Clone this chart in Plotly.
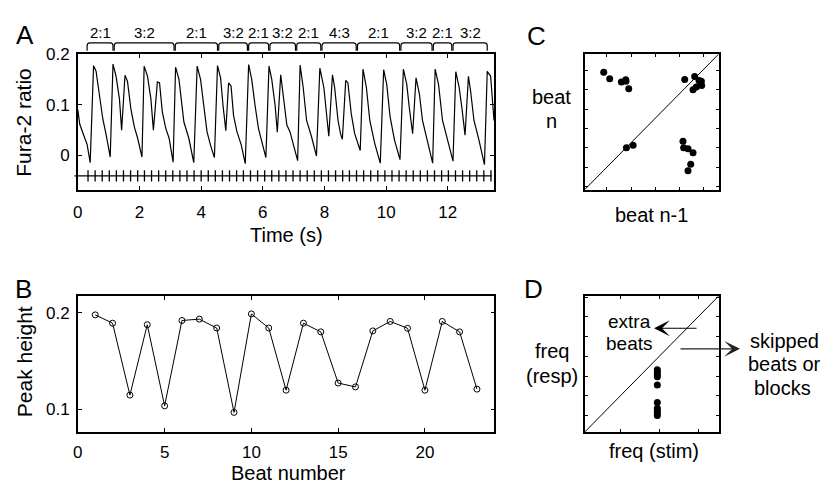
import plotly.graph_objects as go

W, H = 824, 484
FONT = "Liberation Sans, Arial, sans-serif"

# ---------------- Panel A: Fura-2 ratio trace ----------------
time_s = [0.00, 0.06, 0.16, 0.30, 0.40,
          0.51, 0.59, 0.70, 0.81, 0.92, 1.05,
          1.14, 1.24, 1.35, 1.42,
          1.53, 1.61, 1.72, 1.83, 1.94, 2.08,
          2.15, 2.26, 2.37, 2.45,
          2.58, 2.65, 2.74, 2.85, 2.96, 3.09,
          3.17, 3.28, 3.44, 3.60, 3.76,
          3.87, 3.98, 4.09, 4.19, 4.30, 4.43,
          4.53, 4.63, 4.71, 4.80,
          4.89, 4.97, 5.05, 5.16, 5.30, 5.43,
          5.54, 5.64, 5.75, 5.86, 5.97, 6.10,
          6.20, 6.29, 6.40, 6.47,
          6.58, 6.68, 6.78, 6.88, 6.99, 7.13,
          7.21, 7.31, 7.42, 7.58, 7.74,
          7.85, 7.98, 8.06, 8.14,
          8.26, 8.33, 8.44, 8.52, 8.58,
          8.69, 8.76, 8.87, 8.98, 9.16,
          9.25, 9.36, 9.47, 9.63, 9.81,
          9.92, 10.02, 10.13, 10.27, 10.45,
          10.56, 10.67, 10.75, 10.86,
          10.97, 11.08, 11.18, 11.34, 11.51,
          11.59, 11.70, 11.83, 11.99, 12.17,
          12.26, 12.37, 12.47, 12.56,
          12.67, 12.74, 12.85, 13.01, 13.19,
          13.28, 13.39, 13.50]
fura_ratio = [0.090, 0.062, 0.045, 0.022, -0.014,
              0.177, 0.166, 0.117, 0.072, 0.040, -0.003,
              0.180, 0.156, 0.111, 0.050,
              0.158, 0.146, 0.092, 0.057, 0.034, -0.003,
              0.176, 0.156, 0.111, 0.050,
              0.145, 0.143, 0.086, 0.054, 0.034, -0.013,
              0.174, 0.150, 0.066, 0.034, -0.014,
              0.176, 0.150, 0.098, 0.047, 0.021, -0.004,
              0.177, 0.153, 0.098, 0.049,
              0.143, 0.137, 0.079, 0.047, 0.021, -0.016,
              0.179, 0.150, 0.098, 0.053, 0.027, -0.004,
              0.176, 0.150, 0.098, 0.046,
              0.159, 0.110, 0.060, 0.047, 0.024, -0.010,
              0.178, 0.134, 0.069, 0.037, -0.001,
              0.172, 0.134, 0.088, 0.038,
              0.159, 0.134, 0.069, 0.043, 0.032,
              0.148, 0.143, 0.082, 0.043, 0.010,
              0.170, 0.134, 0.069, 0.024, -0.015,
              0.169, 0.140, 0.076, 0.031, -0.008,
              0.170, 0.140, 0.095, 0.043,
              0.153, 0.121, 0.069, 0.031, -0.015,
              0.170, 0.140, 0.069, 0.031, -0.011,
              0.165, 0.134, 0.088, 0.040,
              0.156, 0.127, 0.069, 0.031, -0.018,
              0.166, 0.156, 0.069]

stim_times = [0.33, 0.56, 0.79, 1.02, 1.25, 1.48, 1.71, 1.94, 2.16, 2.39,
              2.62, 2.85, 3.08, 3.31, 3.54, 3.77, 4.00, 4.23, 4.46, 4.69,
              4.92, 5.15, 5.37, 5.60, 5.83, 6.06, 6.29, 6.52, 6.75, 6.98,
              7.21, 7.44, 7.67, 7.90, 8.13, 8.36, 8.59, 8.81, 9.04, 9.27,
              9.50, 9.73, 9.96, 10.19, 10.42, 10.65, 10.88, 11.11, 11.34, 11.57,
              11.80, 12.02, 12.25, 12.48, 12.71, 12.94, 13.17, 13.40]
stim_level = -0.04

bracket_edges = [0.30, 1.16, 3.14, 4.55, 5.52, 6.21, 7.08, 7.90, 9.05,
                 10.46, 11.51, 12.15, 13.28]
bracket_labels = ["2:1", "3:2", "2:1", "3:2", "2:1", "3:2", "2:1", "4:3",
                  "2:1", "3:2", "2:1", "3:2"]

# ---------------- Panel B: peak heights ----------------
beat_number = list(range(1, 24))
peak_height = [0.1976, 0.1890, 0.1145, 0.1874, 0.1034, 0.1918, 0.1932, 0.1840,
               0.0966, 0.1986, 0.1840, 0.1196, 0.1890, 0.1800, 0.1270, 0.1230,
               0.1810, 0.1908, 0.1837, 0.1196, 0.1908, 0.1800, 0.1207]

# ---------------- Panel C: return map ----------------
beat_prev = [0.0966, 0.1028, 0.1149, 0.1194, 0.1196, 0.1225,
             0.1804, 0.1907, 0.1952, 0.1979, 0.1890, 0.1924, 0.1966, 0.1976,
             0.1201, 0.1270,
             0.1786, 0.1793, 0.1838, 0.1890, 0.1866, 0.1838]
beat_curr = [0.1983, 0.1915, 0.1881, 0.1905, 0.1890, 0.1813,
             0.1908, 0.1939, 0.1898, 0.1847, 0.1803, 0.1830, 0.1871, 0.1890,
             0.1202, 0.1229,
             0.1270, 0.1202, 0.1191, 0.1151, 0.1032, 0.0964]
c_xrange = [0.077, 0.2155]
c_yrange = [0.077, 0.217]

# ---------------- Panel D: frequency map ----------------
freq_stim = [1.95, 1.95, 1.95, 1.95, 1.95, 1.95, 1.95, 1.95, 1.95, 1.95]
freq_resp = [1.66, 1.60, 1.54, 1.48, 1.27, 0.83, 0.68, 0.62, 0.56, 0.50]
d_range = [0.08, 3.53]


def px(x):
    return x / W


def py(y):
    return 1 - y / H


fig = go.Figure()

fig.add_trace(go.Scatter(x=time_s, y=fura_ratio, mode="lines",
                         line=dict(color="black", width=1.2),
                         xaxis="x", yaxis="y", showlegend=False))
fig.add_trace(go.Scatter(x=stim_times, y=[stim_level] * len(stim_times),
                         mode="markers",
                         marker=dict(symbol="line-ns", size=8,
                                     line=dict(color="black", width=1.3)),
                         xaxis="x", yaxis="y", showlegend=False))

fig.add_trace(go.Scatter(x=beat_number, y=peak_height, mode="lines+markers",
                         line=dict(color="black", width=1),
                         marker=dict(symbol="circle-open", size=6,
                                     color="black", line=dict(width=1)),
                         xaxis="x2", yaxis="y2", showlegend=False))

fig.add_trace(go.Scatter(x=c_xrange, y=c_yrange, mode="lines",
                         line=dict(color="black", width=1),
                         xaxis="x3", yaxis="y3", showlegend=False))
fig.add_trace(go.Scatter(x=beat_prev, y=beat_curr, mode="markers",
                         marker=dict(symbol="circle", size=7, color="black"),
                         xaxis="x3", yaxis="y3", showlegend=False))

fig.add_trace(go.Scatter(x=d_range, y=d_range, mode="lines",
                         line=dict(color="black", width=1),
                         xaxis="x4", yaxis="y4", showlegend=False))
fig.add_trace(go.Scatter(x=freq_stim, y=freq_resp, mode="markers",
                         marker=dict(symbol="circle", size=7, color="black"),
                         xaxis="x4", yaxis="y4", showlegend=False))

axcommon = dict(showline=True, linecolor="black", linewidth=1.6, mirror="ticks",
                ticks="inside", ticklen=4, tickwidth=1, tickcolor="black",
                showgrid=False, zeroline=False,
                tickfont=dict(family=FONT, size=17, color="black"))

fig.update_layout(
    width=W, height=H,
    margin=dict(l=0, r=0, t=0, b=0, pad=0),
    paper_bgcolor="white", plot_bgcolor="white",
    font=dict(family=FONT, color="black"),
    xaxis=dict(axcommon, domain=[px(73.3), px(492)], anchor="y",
               range=[0, 13.5], tickvals=[0, 2, 4, 6, 8, 10, 12],
               ticklabelstandoff=6),
    yaxis=dict(axcommon, domain=[py(184), py(45.7)], anchor="x",
               range=[-0.067, 0.2002], tickvals=[0, 0.1, 0.2],
               ticktext=["0", "0.1", "0.2"], ticklabelstandoff=3),
    xaxis2=dict(axcommon, domain=[px(73.3), px(492.3)], anchor="y2",
                range=[0, 24], tickvals=[0, 5, 10, 15, 20],
                ticklabelstandoff=4),
    yaxis2=dict(axcommon, domain=[py(430.7), py(292.3)], anchor="x2",
                range=[0.0766, 0.2173], tickvals=[0.1, 0.2],
                ticktext=["0.1", "0.2"], ticklabelstandoff=3),
    xaxis3=dict(axcommon, domain=[px(583.3), px(718)], anchor="y3",
                range=c_xrange, tick0=0, dtick=0.025, showticklabels=False,
                ticklen=3),
    yaxis3=dict(axcommon, domain=[py(184), py(46)], anchor="x3",
                range=c_yrange, tick0=0, dtick=0.02, showticklabels=False,
                ticklen=3),
    xaxis4=dict(axcommon, domain=[px(583.3), px(718)], anchor="y4",
                range=d_range, tick0=0, dtick=1, showticklabels=False,
                ticklen=3),
    yaxis4=dict(axcommon, domain=[py(431), py(292.5)], anchor="x4",
                range=d_range, tick0=0, dtick=0.5, showticklabels=False,
                ticklen=3),
)

# stimulus baseline
fig.add_shape(type="line", xref="x domain", yref="y", x0=-0.008, x1=0.995,
              y0=stim_level, y1=stim_level, line=dict(color="black", width=1.3))

# brackets above panel A
ytop, ymid, ybot = py(34.5), py(37.5), py(42.5)
r = 0.09
for i in range(len(bracket_labels)):
    x0 = bracket_edges[i] + (0.02 if i > 0 else 0)
    x1 = bracket_edges[i + 1] - (0.02 if i < len(bracket_labels) - 1 else 0)
    path = (f"M{x0},{ybot} L{x0},{ymid} Q{x0},{ytop} {x0 + r},{ytop} "
            f"L{x1 - r},{ytop} Q{x1},{ytop} {x1},{ymid} L{x1},{ybot}")
    fig.add_shape(type="path", path=path, xref="x", yref="paper",
                  line=dict(color="black", width=1.2))
    fig.add_annotation(text=bracket_labels[i], x=(x0 + x1) / 2, y=py(24),
                       xref="x", yref="paper", showarrow=False,
                       xanchor="center", yanchor="middle",
                       font=dict(family=FONT, size=15, color="black"))


def ann(text, x, y, size=20, angle=0):
    fig.add_annotation(text=text, x=px(x), y=py(y), xref="paper", yref="paper",
                       showarrow=False, xanchor="center", yanchor="middle",
                       textangle=angle,
                       font=dict(family=FONT, size=size, color="black"))


# panel letters
ann("A", 20.5, 26, 26)
ann("B", 18.5, 285, 26)
ann("C", 535, 28, 26)
ann("D", 532, 285, 26)

# axis titles
ann("Fura-2 ratio", 19, 115, 21, -90)
ann("Time (s)", 283, 230, 20)
ann("Peak height", 19, 359, 21, -90)
ann("Beat number", 285, 473, 20)

# panel C texts
ann("beat", 550, 90, 20)
ann("n", 550, 114, 20)
ann("beat n-1", 650, 210, 20)

# panel D texts
ann("freq", 550, 348, 20)
ann("(resp)", 550, 374, 20)
ann("freq (stim)", 653, 450, 20)
ann("extra", 628, 318, 19)
ann("beats", 628, 341, 19)
ann("skipped", 784, 338, 20)
ann("beats or", 784, 362, 20)
ann("blocks", 782, 386, 20)

# arrows in panel D
fig.add_annotation(x=px(653), y=py(325.3), ax=44, ay=0, xref="paper",
                   yref="paper", text="", showarrow=True, arrowhead=3,
                   arrowsize=2.2, arrowwidth=1.2, arrowcolor="black")
fig.add_annotation(x=px(739.5), y=py(346.3), ax=-61, ay=0, xref="paper",
                   yref="paper", text="", showarrow=True, arrowhead=3,
                   arrowsize=2.2, arrowwidth=1.2, arrowcolor="#222222")

fig.write_html("out.html")
